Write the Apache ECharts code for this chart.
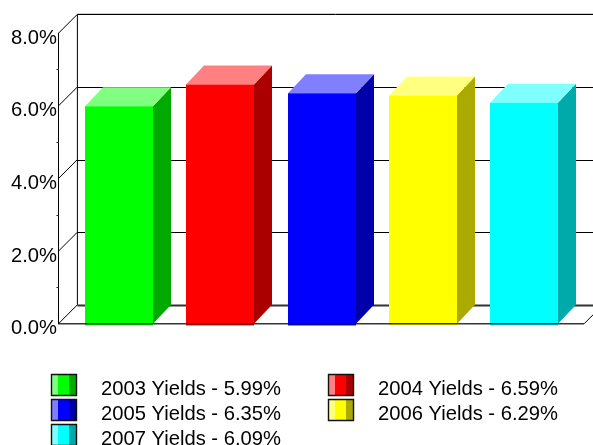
<!DOCTYPE html>
<html>
<head>
<meta charset="utf-8">
<style>html,body{margin:0;padding:0;background:#fff}#c{width:593px;height:445px}</style>
<script src="https://cdn.jsdelivr.net/npm/echarts@6/dist/echarts.min.js"></script>
</head>
<body>
<div id="c"></div>
<script>
var categories = ['2003 Yields', '2004 Yields', '2005 Yields', '2006 Yields', '2007 Yields'];
var yields = [5.99, 6.59, 6.35, 6.29, 6.09];
var frontColors = ['#00ff00', '#ff0000', '#0000ff', '#ffff00', '#00ffff'];
var topColors = ['#80ff80', '#ff8080', '#8080ff', '#ffff80', '#80ffff'];
var sideColors = ['#00aa00', '#aa0000', '#0000aa', '#aaaa00', '#00aaaa'];
var yTicks = [0, 2, 4, 6, 8];
var yTickLabels = ['0.0%', '2.0%', '4.0%', '6.0%', '8.0%'];

var DX = 18, DY = -19, WALL_DX = 19, AXIS_OFFSET = 10, RIGHT_EXTRA = 9.4;
var FONT = '"Liberation Sans", Arial, sans-serif';

function line(x1, y1, x2, y2, stroke, w) {
  return { type: 'line', shape: { x1: x1, y1: y1, x2: x2, y2: y2 }, style: { stroke: stroke, lineWidth: w, fill: null } };
}
function poly(points, fill) {
  return { type: 'polygon', shape: { points: points }, style: { fill: fill, stroke: null } };
}

function renderWall(params, api) {
  var cs = params.coordSys;
  var L = cs.x - AXIS_OFFSET, R = cs.x + cs.width + RIGHT_EXTRA;
  var v = api.value(1);
  var y = api.coord([0, v])[1];
  var kids = [line(L, y, L + WALL_DX, y + DY, '#000', 1)];
  var by = Math.round(y + DY) + 0.5;
  if (v === 0) {
    kids.push(line(L + WALL_DX, by, R + WALL_DX, by, '#333', 2));
  } else {
    kids.push(line(L + WALL_DX, by, R + WALL_DX, by, '#000', 1));
  }
  if (v === yTicks[yTicks.length - 1]) {
    kids.push(line(L + WALL_DX, by, L + WALL_DX, api.coord([0, 0])[1] + DY, '#000', 1));
    kids.push(line(L + WALL_DX, by - 1, R + WALL_DX, by - 1, '#ccc', 1));
  }
  return { type: 'group', children: kids };
}

function renderBar(params, api) {
  var i = params.dataIndex;
  var c = api.coord([api.value(0), api.value(1)]);
  var base = api.coord([api.value(0), 0])[1];
  var w = api.size([1, 0])[0] * 0.672;
  var l = Math.round(c[0] - w / 2), r = l + Math.round(w), t = c[1], b = base + 1.6;
  return {
    type: 'group',
    children: [
      poly([[r, t], [r + DX, t + DY], [r + DX, base + DY], [r, base]], sideColors[i]),
      poly([[l, t], [l + DX, t + DY], [r + DX, t + DY], [r, t]], topColors[i]),
      { type: 'rect', shape: { x: l, y: t, width: r - l, height: b - t }, style: { fill: frontColors[i] } }
    ]
  };
}

function renderFloorFront(params, api) {
  var cs = params.coordSys;
  var L = cs.x - AXIS_OFFSET, R = cs.x + cs.width + RIGHT_EXTRA;
  var y = api.coord([0, api.value(1)])[1];
  return {
    type: 'group',
    children: [
      line(L, y, R, y, 'rgba(20,20,20,0.85)', 1.5),
      line(R, y, R + WALL_DX, y + DY, '#000', 1)
    ]
  };
}

var legendCols = [51, 328], legendRows = [374, 399, 424];
var legendEls = [];
categories.forEach(function (name, i) {
  var x = legendCols[i % 2], y = legendRows[Math.floor(i / 2)];
  var label = name + ' - ' + yields[i].toFixed(2) + '%';
  legendEls.push(
    { type: 'rect', silent: true, shape: { x: x, y: y, width: 7, height: 21 }, style: { fill: topColors[i] } },
    { type: 'rect', silent: true, shape: { x: x + 7, y: y, width: 11, height: 21 }, style: { fill: frontColors[i] } },
    { type: 'rect', silent: true, shape: { x: x + 18, y: y, width: 7, height: 21 }, style: { fill: sideColors[i] } },
    { type: 'rect', silent: true, shape: { x: x + 0.5, y: y + 0.5, width: 25, height: 21 }, style: { fill: null, stroke: '#111', lineWidth: 1.4 } },
    { type: 'text', silent: true, x: x + 50, y: y + 15, style: { text: label, font: '20.2px ' + FONT, fill: '#000', textVerticalAlign: 'middle', verticalAlign: 'middle' } }
  );
});

var chart = echarts.init(document.getElementById('c'), null, { renderer: 'canvas', width: 593, height: 445 });
chart.setOption({
  animation: false,
  backgroundColor: '#fff',
  grid: { left: 68.4, top: 33.3, width: 506.25, height: 290.5, containLabel: false },
  xAxis: { type: 'category', data: categories, show: false },
  yAxis: {
    type: 'value', min: 0, max: 8, interval: 2, offset: AXIS_OFFSET,
    axisLine: { show: true, onZero: false, lineStyle: { color: '#000', width: 1 } },
    axisTick: { show: false },
    minorTick: { show: true, splitNumber: 2, length: 2, lineStyle: { color: '#333', width: 1 } },
    splitLine: { show: false },
    minorSplitLine: { show: false },
    axisLabel: {
      show: true, margin: 1.4, color: '#000', fontSize: 20.2, fontFamily: FONT,
      verticalAlign: 'top', lineHeight: 10,
      formatter: function (v) { return yTickLabels[yTicks.indexOf(v)]; }
    }
  },
  graphic: legendEls,
  series: [
    { type: 'custom', name: 'walls', silent: true, clip: false, renderItem: renderWall, encode: { x: 0, y: 1 },
      data: yTicks.map(function (v) { return [0, v]; }), z: 1 },
    { type: 'custom', name: 'Yields', silent: true, clip: false, renderItem: renderBar, encode: { x: 0, y: 1 },
      data: yields.map(function (v, i) { return [i, v]; }), z: 2 },
    { type: 'custom', name: 'floor', silent: true, clip: false, renderItem: renderFloorFront, encode: { x: 0, y: 1 },
      data: [[0, yTicks[0]]], z: 3 }
  ]
});
</script>
</body>
</html>
